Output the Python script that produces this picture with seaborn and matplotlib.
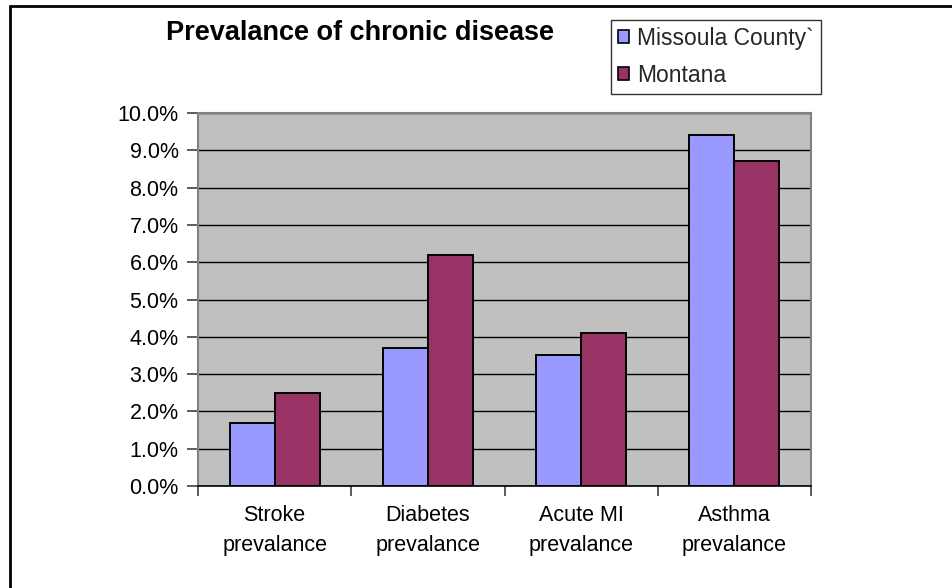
import matplotlib
matplotlib.use("Agg")
import matplotlib.pyplot as plt
from matplotlib.patches import Patch
from matplotlib.lines import Line2D
from matplotlib.ticker import FixedLocator, FuncFormatter
import pandas as pd
import seaborn as sns

# Chronic disease prevalence (%) by area
categories = ["Stroke\nprevalance", "Diabetes\nprevalance", "Acute MI\nprevalance", "Asthma\nprevalance"]
missoula = [1.7, 3.7, 3.5, 9.4]
montana = [2.5, 6.2, 4.1, 8.7]
series_names = ["Missoula County`", "Montana"]
colors = ["#9999FF", "#993366"]

df = pd.DataFrame({
    "category": categories * 2,
    "value": missoula + montana,
    "region": [series_names[0]] * len(categories) + [series_names[1]] * len(categories),
})

sns.set_theme(style="white")
plt.rcParams["font.family"] = ["Liberation Sans", "DejaVu Sans"]

W, H = 952, 588
fig = plt.figure(figsize=(W / 100, H / 100), dpi=100)
fig.patch.set_facecolor("white")

# plot area in pixel coordinates
x0, x1, ytop, ybot = 198, 811, 113, 486
ax = fig.add_axes([x0 / W, 1 - ybot / H, (x1 - x0) / W, (ybot - ytop) / H])
ax.set_facecolor("#C0C0C0")

sns.barplot(data=df, x="category", y="value", hue="region", order=categories,
            hue_order=series_names, palette=colors, saturation=1, width=0.587,
            edgecolor="black", linewidth=1.4, ax=ax, legend=False, zorder=3)

ax.set_ylim(0, 10)
ax.set_xlim(-0.5, len(categories) - 0.5)
ax.set_yticks([i for i in range(11)])
ax.yaxis.set_major_formatter(FuncFormatter(lambda v, p: f"{v:.1f}%"))
ax.grid(axis="y", color="black", linewidth=1.0, zorder=0)
ax.set_axisbelow(True)
ax.set_xlabel("")
ax.set_ylabel("")

# category labels centred, tick marks on category boundaries
ax.tick_params(axis="x", which="major", length=0, pad=14, labelsize=15.5, labelcolor="black")
for lbl in ax.get_xticklabels():
    lbl.set_linespacing(1.55)
ax.xaxis.set_minor_locator(FixedLocator([i - 0.5 for i in range(len(categories) + 1)]))
ax.tick_params(axis="x", which="minor", length=7, width=1.2, color="#404040", direction="out", bottom=True)
ax.tick_params(axis="y", length=8, width=1.2, color="#404040", direction="out", left=True,
               pad=6, labelsize=15.5, labelcolor="black")

for side in ["left", "top", "right"]:
    ax.spines[side].set_color("#808080")
    ax.spines[side].set_linewidth(1.5)
ax.spines["bottom"].set_color("black")
ax.spines["bottom"].set_linewidth(1.2)

fig.text(360 / W, 1 - 33 / H, "Prevalance of chronic disease", ha="center", va="center",
         fontsize=19.5, fontweight="bold", color="black")

handles = [Patch(facecolor=c, edgecolor="black", linewidth=1.2) for c in colors]
leg = ax.legend(handles, series_names, loc="upper left",
                bbox_to_anchor=(611 / W, 1 - 20 / H), bbox_transform=fig.transFigure,
                frameon=True, fancybox=False, shadow=False, fontsize=16.5,
                handlelength=0.5, handleheight=0.5, handletextpad=0.35,
                borderpad=0.3, labelspacing=0.62, borderaxespad=0)
leg.get_frame().set_edgecolor("black")
leg.get_frame().set_linewidth(1.0)
leg.get_frame().set_facecolor("white")

# chart frame (top and left edges)
fig.add_artist(Line2D([10 / W, 10 / W], [0, 1 - 5.5 / H], color="black", linewidth=2, transform=fig.transFigure))
fig.add_artist(Line2D([10 / W, 1], [1 - 5.5 / H, 1 - 5.5 / H], color="black", linewidth=2, transform=fig.transFigure))

fig.savefig("out.png", dpi=100, facecolor="white")
